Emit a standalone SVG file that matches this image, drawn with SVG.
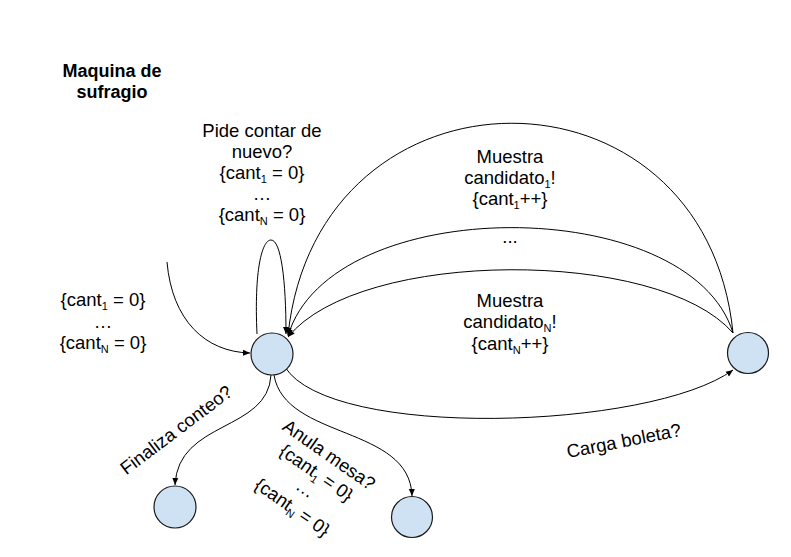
<svg xmlns="http://www.w3.org/2000/svg" width="791" height="557" viewBox="0 0 791 557">
<style>
.node{fill:#cfe2f3;stroke:#1a1a1a;stroke-width:1.2}
.edge{fill:none;stroke:#000;stroke-width:1}
text{font-family:"Liberation Sans",Arial,sans-serif;font-size:18.5px;fill:#000;text-anchor:middle}
.title{font-weight:bold;font-size:18px}
.sub{font-size:11px}
</style>
<defs>
<marker id="arr" markerWidth="8" markerHeight="8" refX="7" refY="4" orient="auto" markerUnits="userSpaceOnUse">
<path d="M0,1 L7,4 L0,7 Z" fill="#000"/>
</marker>
</defs>
<rect width="791" height="557" fill="#fff"/>
<g id="connectors">
<path class="edge" d="M167,262 C172,320 205,352 250,353" marker-end="url(#arr)"/>
<path class="edge" d="M257,334 C254,270 262,240 271,240 C281,240 286,280 286,334" marker-end="url(#arr)"/>
<path class="edge" d="M733,333 C705,53 318,53 288,335" marker-end="url(#arr)"/>
<path class="edge" d="M733,333 C690,192 330,192 288,336" marker-end="url(#arr)"/>
<path class="edge" d="M733,333 C660,248 360,248 288,337" marker-end="url(#arr)"/>
<path class="edge" d="M285,367 C330,440 650,430 733,370" marker-end="url(#arr)"/>
<path class="edge" d="M271,375 C268,432 178,420 175,485" marker-end="url(#arr)"/>
<path class="edge" d="M274,375 C285,440 410,425 412,496" marker-end="url(#arr)"/>
</g>
<g id="title">
<text class="title" x="112" y="77">Maquina de</text>
<text class="title" x="112" y="98">sufragio</text>
</g>
<g id="node-main"><circle class="node" cx="272" cy="354" r="21"/></g>
<g id="node-b"><circle class="node" cx="748" cy="353" r="20.5"/></g>
<g id="node-c"><circle class="node" cx="175" cy="507" r="21"/></g>
<g id="node-d"><circle class="node" cx="412" cy="517" r="20.5"/></g>
<g id="labels">
<text x="262" y="137">Pide contar de</text>
<text x="262" y="158">nuevo?</text>
<text x="262" y="179">{cant<tspan class="sub" dy="4">1</tspan><tspan dy="-4"> = 0}</tspan></text>
<text x="262" y="200">…</text>
<text x="262" y="221">{cant<tspan class="sub" dy="4">N</tspan><tspan dy="-4"> = 0}</tspan></text>

<text x="103" y="306">{cant<tspan class="sub" dy="4">1</tspan><tspan dy="-4"> = 0}</tspan></text>
<text x="103" y="328">…</text>
<text x="103" y="349">{cant<tspan class="sub" dy="4">N</tspan><tspan dy="-4"> = 0}</tspan></text>

<text x="510" y="163">Muestra</text>
<text x="510" y="184">candidato<tspan class="sub" dy="4">1</tspan><tspan dy="-4">!</tspan></text>
<text x="510" y="205">{cant<tspan class="sub" dy="4">1</tspan><tspan dy="-4">++}</tspan></text>
<text x="510" y="243">...</text>
<text x="510" y="307">Muestra</text>
<text x="510" y="328">candidato<tspan class="sub" dy="4">N</tspan><tspan dy="-4">!</tspan></text>
<text x="510" y="350">{cant<tspan class="sub" dy="4">N</tspan><tspan dy="-4">++}</tspan></text>

<text transform="translate(625,447) rotate(-11)" x="0" y="0">Carga boleta?</text>
<text transform="translate(180,435) rotate(-37)" x="0" y="0">Finaliza conteo?</text>
<g transform="translate(329,455) rotate(35)">
<text x="0" y="6">Anula mesa?</text>
<text x="0" y="28">{cant<tspan class="sub" dy="4">1</tspan><tspan dy="-4"> = 0}</tspan></text>
<text x="0" y="47">…</text>
<text x="0" y="70">{cant<tspan class="sub" dy="4">N</tspan><tspan dy="-4"> = 0}</tspan></text>
</g>
</g>
</svg>
